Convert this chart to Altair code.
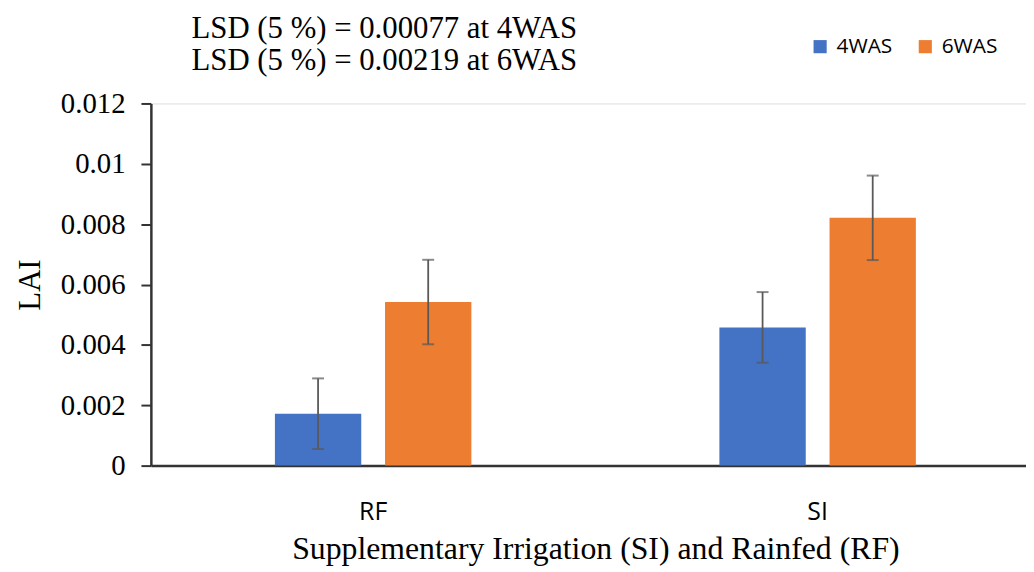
import altair as alt
import pandas as pd

categories = ["RF", "SI"]
series = ["4WAS", "6WAS"]
lai_4was = [0.00172, 0.00458]
lai_6was = [0.00542, 0.00821]
err_4was = [0.00117, 0.00117]
err_6was = [0.00140, 0.00140]
y_ticks = [0, 0.002, 0.004, 0.006, 0.008, 0.01, 0.012]
colors = ["#4472C4", "#ED7D31"]
annotation = ["LSD (5 %) = 0.00077 at 4WAS", "LSD (5 %) = 0.00219 at 6WAS"]

rows = []
for i, c in enumerate(categories):
    rows.append({"cat": c, "series": "4WAS", "v": lai_4was[i], "lo": lai_4was[i] - err_4was[i], "hi": lai_4was[i] + err_4was[i]})
    rows.append({"cat": c, "series": "6WAS", "v": lai_6was[i], "lo": lai_6was[i] - err_6was[i], "hi": lai_6was[i] + err_6was[i]})
df = pd.DataFrame(rows)
ann_df = pd.DataFrame({"line": annotation})

SERIF = "Liberation Serif"
SANS = "Open Sans"

x_scale = alt.Scale(range=[0, 896], paddingInner=0.558, paddingOuter=0.279)
x_enc = alt.X("cat:N", sort=categories, scale=x_scale,
              axis=alt.Axis(title="Supplementary Irrigation (SI) and Rainfed (RF)",
                            titleFont=SERIF, titleFontSize=32, titleFontWeight="normal",
                            titleColor="black", titlePadding=10,
                            labelFont=SANS, labelFontSize=25, labelColor="black",
                            labelPadding=34, labelAngle=0,
                            ticks=False, domainColor="#333333", domainWidth=2.5))
xoff = alt.XOffset("series:N", sort=series,
                   scale=alt.Scale(paddingInner=0.216, paddingOuter=0))
y_scale = alt.Scale(domain=[0, 0.012], nice=False)

bars = alt.Chart(df).mark_bar().encode(
    x=x_enc,
    xOffset=xoff,
    y=alt.Y("v:Q", scale=y_scale,
            axis=alt.Axis(title="LAI", values=y_ticks, format="~g", grid=False,
                          titleFont=SERIF, titleFontSize=31, titleFontWeight="normal",
                          titleColor="black", titlePadding=14,
                          labelFont=SERIF, labelFontSize=29, labelColor="black",
                          labelPadding=16, tickSize=10, tickColor="#333333", tickWidth=2,
                          domainColor="#333333", domainWidth=2.5)),
    color=alt.Color("series:N", sort=series,
                    scale=alt.Scale(domain=series, range=colors),
                    legend=alt.Legend(title=None, orient="none", direction="horizontal",
                                      legendX=664, legendY=-68, symbolType="square",
                                      symbolSize=175, symbolStrokeWidth=0,
                                      labelFont=SANS, labelFontSize=21, labelColor="black",
                                      columnPadding=22, labelOffset=6)),
)

rules = alt.Chart(df).mark_rule(color="#595959", strokeWidth=1.8).encode(
    x=alt.X("cat:N", sort=categories), xOffset=xoff,
    y=alt.Y("lo:Q", scale=y_scale), y2="hi:Q",
)
caps_lo = alt.Chart(df).mark_tick(color="#595959", thickness=2, size=12).encode(
    x=alt.X("cat:N", sort=categories), xOffset=xoff,
    y=alt.Y("lo:Q", scale=y_scale),
)
caps_hi = alt.Chart(df).mark_tick(color="#595959", thickness=2, size=12).encode(
    x=alt.X("cat:N", sort=categories), xOffset=xoff,
    y=alt.Y("hi:Q", scale=y_scale),
)

ann1 = alt.Chart(ann_df.iloc[[0]]).mark_text(
    font=SERIF, fontSize=31, color="black", align="left", baseline="alphabetic"
).encode(text="line:N", x=alt.value(41), y=alt.value(-66))
ann2 = alt.Chart(ann_df.iloc[[1]]).mark_text(
    font=SERIF, fontSize=31, color="black", align="left", baseline="alphabetic"
).encode(text="line:N", x=alt.value(41), y=alt.value(-34))

chart = alt.layer(bars, rules, caps_lo, caps_hi, ann1, ann2).properties(
    width=882, height=365,
    autosize=alt.AutoSizeParams(type="none"),
    padding={"left": 144, "top": 94, "right": 0, "bottom": 104},
).configure_view(stroke=None).configure(background="white")

chart.save("out.html", embed_options={"renderer": "svg", "actions": False})
